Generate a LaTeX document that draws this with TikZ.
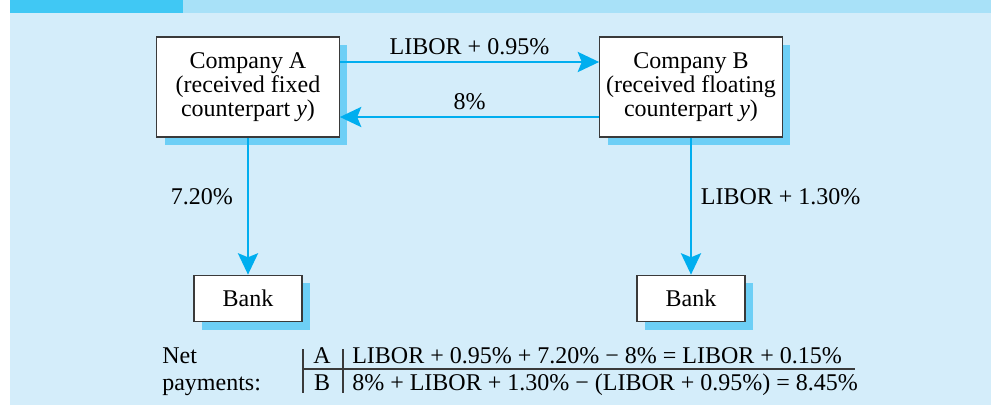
\documentclass[tikz,border=0pt]{standalone}
\usepackage{fontspec}
\setmainfont{Liberation Serif}
\usetikzlibrary{shadows,arrows.meta,positioning}
\definecolor{bgblue}{HTML}{D4EDFA}
\definecolor{headdark}{HTML}{40C8F4}
\definecolor{headlight}{HTML}{A8E1F8}
\definecolor{shadowblue}{HTML}{6DCFF6}
\definecolor{arrowblue}{HTML}{00AEEF}
\definecolor{boxgray}{HTML}{3A3A3A}

\begin{document}
\begin{tikzpicture}[x=0.75pt, y=-0.75pt, font=\fontsize{18}{18}\selectfont,
			box_style/.style={draw=boxgray, line width=0.8pt, fill=white, align=center, inner sep=0pt,
				drop shadow={shadow xshift=6pt, shadow yshift=-6pt, fill=shadowblue, opacity=1}},
			company_style/.style={box_style, minimum width=137pt, minimum height=75pt},
			bank_style/.style={box_style, minimum width=81pt, minimum height=35pt},
			edge_style/.style={line width=2.2pt, arrowblue, -{Stealth[length=16pt, width=15pt, inset=3pt]}},
			rule_style/.style={line width=0.8pt, boxgray}]
			
			% background and header strip
			\useasboundingbox (0,0) rectangle (991,405);
			\fill[bgblue] (10,0) rectangle (991,405);
			\fill[headdark] (10,0) rectangle (183,13);
			\fill[headlight] (183,0) rectangle (991,13);
			
			\node[company_style] (compA) at (248,87) {Company A\\(received fixed\\counterpart \textit{y})};
			\node[company_style] (compB) at (691,87) {Company B\\(received floating\\counterpart \textit{y})};
			\foreach \x/\y in {248/bankA,691/bankB}{
				\node[bank_style] (\y) at (\x,298.5) {Bank};}
			
			\draw[edge_style] ([yshift=18.75pt]compA.east) -- node[above=1pt, black] {LIBOR + 0.95\%} ([yshift=18.75pt]compB.west);
			\draw[edge_style] ([yshift=-22.5pt]compB.west) -- node[above=1pt, black] {8\%} ([yshift=-22.5pt]compA.east);
			\draw[edge_style] (compA.south) -- node[left=7pt, pos=0.43, black] {7.20\%} (bankA.north);
			\draw[edge_style] (compB.south) -- node[right=3pt, pos=0.43, black] {LIBOR + 1.30\%} (bankB.north);
			
			% net payments table
			\node[anchor=base west, inner sep=0pt] (netA) at (162,363) {Net};
			\node[anchor=base west, inner sep=0pt] (netB) at (162,390) {payments:};
			\node[anchor=base, inner sep=0pt] (keyA) at (322,363) {A};
			\node[anchor=base, inner sep=0pt] (keyB) at (322,390) {B};
			\node[anchor=base west, inner sep=0pt] (rowA) at (352,363) {LIBOR + 0.95\% + 7.20\% − 8\% = LIBOR + 0.15\%};
			\node[anchor=base west, inner sep=0pt] (rowB) at (352,390) {8\% + LIBOR + 1.30\% − (LIBOR + 0.95\%) = 8.45\%};
			\foreach \x in {303,343}{
				\draw[rule_style] (\x,349) -- (\x,393);}
			\draw[rule_style] (303,369) -- (855,369);
		\end{tikzpicture}
\end{document}
